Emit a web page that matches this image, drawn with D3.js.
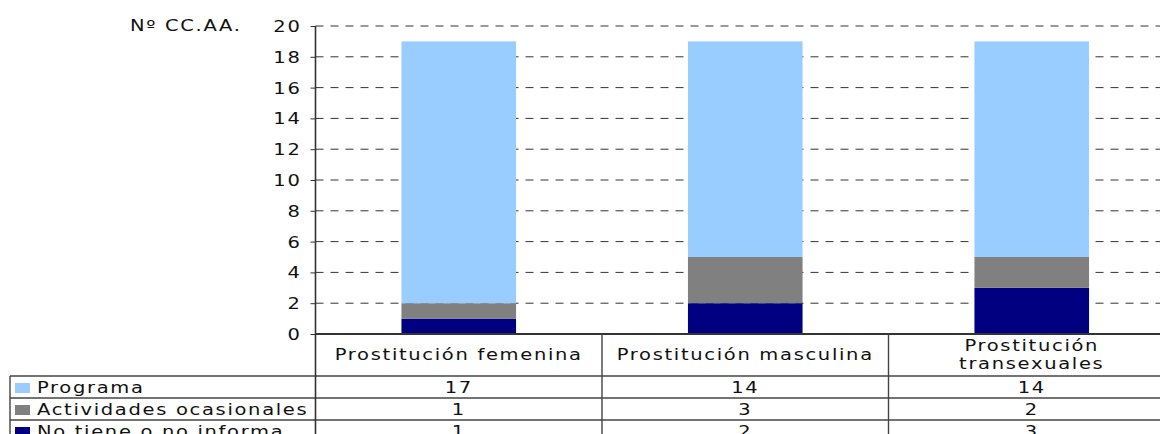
<!DOCTYPE html>
<html lang="es">
<head>
<meta charset="UTF-8" />
<title>Nº CC.AA. por tipo de prostitución</title>
<style>
  body { margin: 0; background: #fff; overflow: hidden; }
  svg text { font-family: "DejaVu Sans", Verdana, sans-serif; font-size: 15px; fill: #111; letter-spacing: 1.3px; }
</style>
</head>
<body>
<div id="chart"></div>
<script src="https://cdn.jsdelivr.net/npm/d3@7"></script>
<script>
// datos
const categories = ['Prostitución femenina', 'Prostitución masculina', 'Prostitución transexuales'];
const seriesNames = ['Programa', 'Actividades ocasionales', 'No tiene o no informa'];
const programa = [17, 14, 14];
const actividades = [1, 3, 2];
const noTiene = [1, 2, 3];
const yTicks = [0, 2, 4, 6, 8, 10, 12, 14, 16, 18, 20];
const yTitle = 'Nº CC.AA.';

const colors = ['#99ccff', '#808080', '#000080'];
const W = 1160, H = 434;
const plotL = 315.5, plotR = 1175, plotT = 26, plotB = 334;
const sx = 1.3; // texto ensanchado como en el original

const svg = d3.select('#chart').append('svg').attr('width', W).attr('height', H);

const x = d3.scaleBand().domain(categories).range([plotL, plotR]).padding(0);
const y = d3.scaleLinear().domain([0, 20]).range([plotB, plotT]);

function label(g, px, py, str, anchor) {
  return g.append('text')
    .attr('transform', `translate(${px},${py}) scale(${sx},1)`)
    .attr('text-anchor', anchor)
    .text(str);
}

// rejilla
svg.append('g').selectAll('line')
  .data(yTicks.filter(d => d > 0))
  .join('line')
  .attr('x1', plotL).attr('x2', plotR)
  .attr('y1', d => y(d)).attr('y2', d => y(d))
  .attr('stroke', '#333').attr('stroke-width', 1)
  .attr('stroke-dasharray', '8,7');

// barras apiladas (abajo: no tiene, luego actividades, arriba programa)
const rows = categories.map((c, i) => ({ cat: c, p: programa[i], a: actividades[i], n: noTiene[i] }));
const stack = d3.stack().keys(['n', 'a', 'p'])(rows);
const fillFor = { n: colors[2], a: colors[1], p: colors[0] };
const barW = x.bandwidth() * 0.4;

svg.append('g').selectAll('g')
  .data(stack)
  .join('g')
  .attr('fill', d => fillFor[d.key])
  .selectAll('rect')
  .data(d => d)
  .join('rect')
  .attr('x', d => x(d.data.cat) + (x.bandwidth() - barW) / 2)
  .attr('width', barW)
  .attr('y', d => y(d[1]))
  .attr('height', d => y(d[0]) - y(d[1]));

// eje Y
const axis = svg.append('g')
  .attr('transform', `translate(${plotL},0)`)
  .call(d3.axisLeft(y).tickValues(yTicks).tickSize(5).tickSizeOuter(0).tickFormat(d3.format('d')));
axis.select('.domain').remove();
axis.attr('font-size', null).attr('font-family', null);
axis.selectAll('.tick line').attr('stroke', '#333');
axis.selectAll('.tick text')
  .attr('x', null).attr('dy', null)
  .attr('transform', `translate(-14,5.5) scale(${sx},1)`)
  .attr('fill', '#111');

label(svg, 130, plotT + 5, yTitle, 'start');

// tabla de datos
const lineCol = '#444';
const rowTop = 376, rowH = 22;
const tbl = svg.append('g');

// líneas horizontales
tbl.append('line').attr('x1', plotL).attr('x2', plotR).attr('y1', plotB).attr('y2', plotB)
  .attr('stroke', '#333').attr('stroke-width', 2);
[0, 1, 2].forEach(r => {
  tbl.append('line').attr('x1', 10).attr('x2', plotR)
    .attr('y1', rowTop + r * rowH).attr('y2', rowTop + r * rowH)
    .attr('stroke', lineCol).attr('stroke-width', 1.4);
});
// líneas verticales
tbl.append('line').attr('x1', 10).attr('x2', 10).attr('y1', rowTop).attr('y2', H)
  .attr('stroke', lineCol).attr('stroke-width', 1.4);
tbl.append('line').attr('x1', plotL).attr('x2', plotL).attr('y1', plotT).attr('y2', H)
  .attr('stroke', '#333').attr('stroke-width', 1.6);
categories.slice(1).forEach(c => {
  tbl.append('line').attr('x1', x(c)).attr('x2', x(c)).attr('y1', plotB).attr('y2', H)
    .attr('stroke', lineCol).attr('stroke-width', 1.4);
});

// cabeceras de categoría
categories.forEach((c, i) => {
  const cx = x(c) + x.bandwidth() / 2;
  if (i === 2) {
    const parts = c.split(' ');
    label(tbl, cx, 351, parts[0], 'middle');
    label(tbl, cx, 369, parts[1], 'middle');
  } else {
    label(tbl, cx, 360, c, 'middle');
  }
});

// filas de la serie
const seriesValues = [programa, actividades, noTiene];
seriesNames.forEach((name, r) => {
  const yb = rowTop + r * rowH + 17;
  tbl.append('rect').attr('x', 15).attr('y', rowTop + r * rowH + 7)
    .attr('width', 15).attr('height', 10).attr('fill', colors[r]);
  label(tbl, 37, yb, name, 'start');
  seriesValues[r].forEach((v, i) => {
    label(tbl, x(categories[i]) + x.bandwidth() / 2, yb, String(v), 'middle');
  });
});
</script>
</body>
</html>
